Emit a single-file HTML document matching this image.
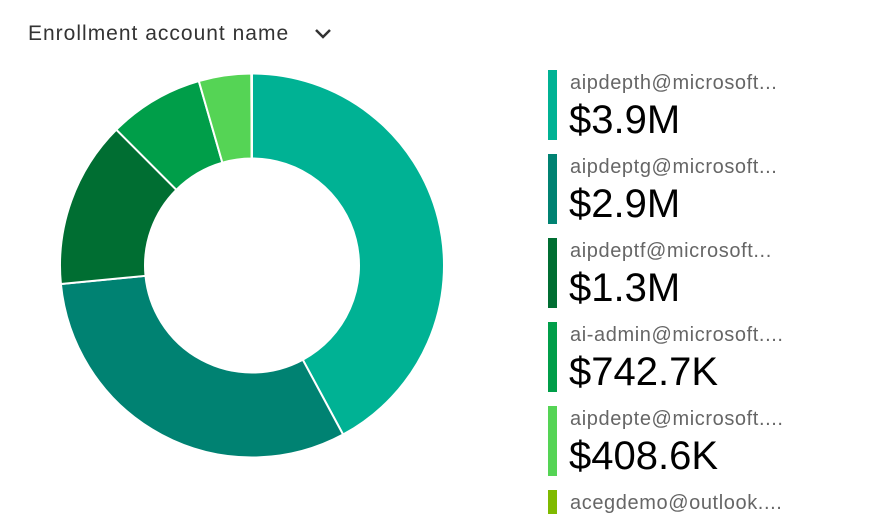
<!DOCTYPE html>
<html><head><meta charset="utf-8"><style>
body{margin:0;width:885px;height:524px;background:#fff;font-family:"Liberation Sans",sans-serif;overflow:hidden;position:relative}
.title{position:absolute;left:28px;top:22px;font-size:21px;letter-spacing:1px;color:#333}
.entry{position:absolute;left:548px}
.bar{position:absolute;left:0;top:0;width:9px;height:70px}
.lab{position:absolute;left:22px;top:2px;font-size:20px;letter-spacing:0.6px;color:#666;white-space:nowrap}
.val{position:absolute;left:21px;top:28px;font-size:40px;color:#000;white-space:nowrap}
</style></head><body>
<div class="title">Enrollment account name <svg width="18" height="12" style="margin-left:18px" viewBox="0 0 18 12"><path d="M2 2 L9 9 L16 2" stroke="#333" stroke-width="2.5" fill="none"/></svg></div>
<svg id="donut" width="885" height="524" style="position:absolute;left:0;top:0"></svg>
<div id="legend"></div>
<script>
const labels=["aipdepth@microsoft...","aipdeptg@microsoft...","aipdeptf@microsoft...","ai-admin@microsoft....","aipdepte@microsoft....","acegdemo@outlook...."];
const valueText=["$3.9M","$2.9M","$1.3M","$742.7K","$408.6K",""];
const values=[3900,2900,1300,742.7,408.6,5];
const colors=["#00b294","#008272","#006e32","#009e49","#55d455","#7fba00"];
const cx=252,cy=265.5,R=192,r=107;
const svg=document.getElementById('donut');
const total=values.reduce((a,b)=>a+b,0);
let a0=0;
function pt(rad,a){return [cx+rad*Math.sin(a),cy-rad*Math.cos(a)];}
values.forEach((v,i)=>{
  const a1=a0+v/total*Math.PI*2;
  const large=(a1-a0)>Math.PI?1:0;
  const p1=pt(R,a0),p2=pt(R,a1),p3=pt(r,a1),p4=pt(r,a0);
  const p=document.createElementNS('http://www.w3.org/2000/svg','path');
  p.setAttribute('d',`M${p1} A${R},${R} 0 ${large} 1 ${p2} L${p3} A${r},${r} 0 ${large} 0 ${p4}Z`);
  p.setAttribute('fill',colors[i]);p.setAttribute('stroke','#fff');p.setAttribute('stroke-width','2');
  
  
  svg.appendChild(p);
  a0=a1;
});
const lg=document.getElementById('legend');
labels.forEach((l,i)=>{
  const e=document.createElement('div');e.className='entry';e.style.top=(70+84*i)+'px';
  
  
  const h=i===5?24:70;
  e.innerHTML=`<div class="bar" style="background:${colors[i]};height:${h}px"></div><div class="lab">${l}</div><div class="val">${valueText[i]}</div>`;
  lg.appendChild(e);
});
</script>
</body></html>
